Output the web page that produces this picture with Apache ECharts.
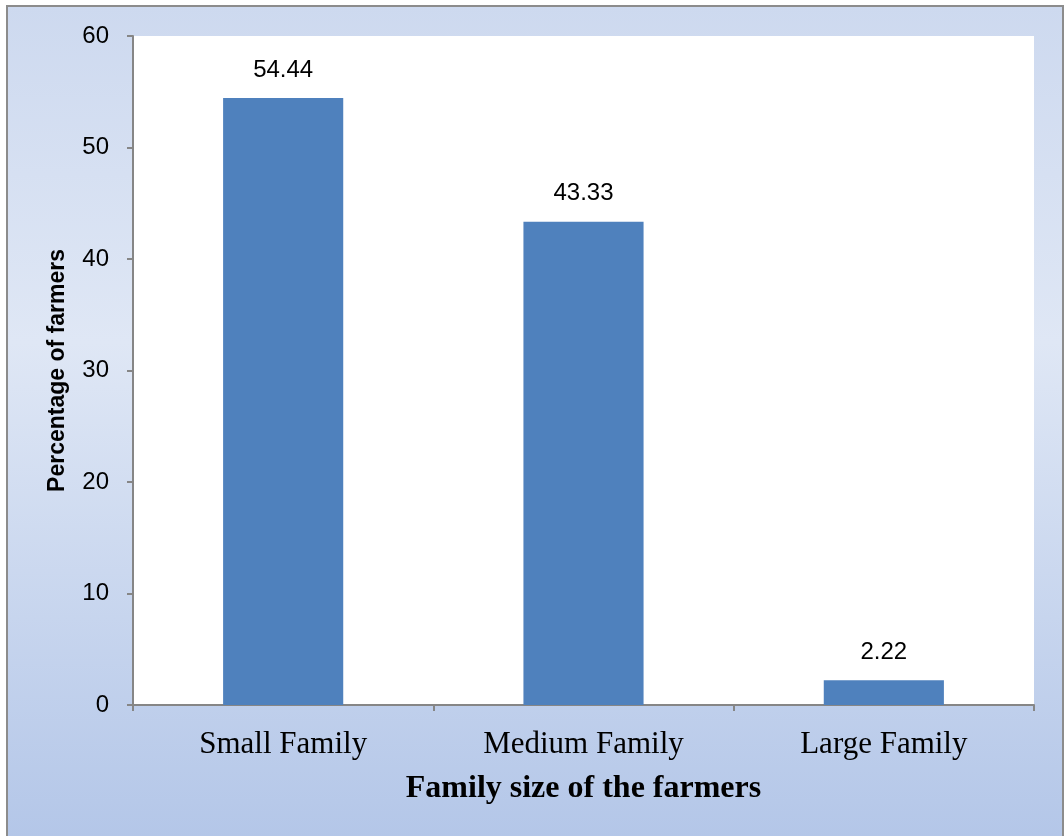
<!DOCTYPE html>
<html>
<head>
<meta charset="utf-8">
<script src="https://cdn.jsdelivr.net/npm/echarts@6/dist/echarts.min.js"></script>
<style>
html,body{margin:0;padding:0;background:#fff;}
#c{width:1064px;height:836px;}
</style>
</head>
<body>
<div id="c"></div>
<script>
const categories = ['Small Family', 'Medium Family', 'Large Family'];
const percentages = [54.44, 43.33, 2.22];
const yTicks = [0, 10, 20, 30, 40, 50, 60];

const chart = echarts.init(document.getElementById('c'), null, {renderer: 'canvas'});
const sans = '"Liberation Sans", Arial, sans-serif';
const serif = '"Liberation Serif", "Times New Roman", serif';

chart.setOption({
  animation: false,
  graphic: [{
    type: 'rect',
    z: -10,
    silent: true,
    shape: {x: 7, y: 6, width: 1056, height: 840},
    style: {
      fill: new echarts.graphic.LinearGradient(0, 0, 0, 1, [
        {offset: 0, color: '#cdd9ef'},
        {offset: 0.4, color: '#dfe7f5'},
        {offset: 1, color: '#b3c6e8'}
      ]),
      stroke: '#8c8c8c',
      lineWidth: 2
    }
  }, {
    type: 'rect',
    z: -5,
    silent: true,
    shape: {x: 133, y: 36, width: 901, height: 669},
    style: {fill: '#ffffff'}
  }],
  grid: {left: 133, right: 30, top: 36, bottom: 131, containLabel: false},
  xAxis: {
    type: 'category',
    data: categories,
    name: 'Family size of the farmers',
    nameLocation: 'middle',
    nameGap: 68,
    nameTextStyle: {fontFamily: serif, fontSize: 32, fontWeight: 'bold', color: '#000'},
    axisLine: {lineStyle: {color: '#868686', width: 2}},
    axisTick: {show: true, length: 6, lineStyle: {color: '#868686', width: 2}, alignWithLabel: false},
    axisLabel: {fontFamily: serif, fontSize: 31, color: '#000', margin: 24}
  },
  yAxis: {
    type: 'value',
    min: 0,
    max: 60,
    interval: 10,
    name: 'Percentage of farmers',
    nameLocation: 'middle',
    nameGap: 64,
    nameTextStyle: {fontFamily: sans, fontSize: 23, fontWeight: 'bold', color: '#000'},
    axisLine: {show: true, lineStyle: {color: '#868686', width: 2}},
    axisTick: {show: true, length: 6, lineStyle: {color: '#868686', width: 2}},
    splitLine: {show: false},
    axisLabel: {
      fontFamily: sans, fontSize: 24, color: '#000', margin: 24,
      formatter: v => yTicks.includes(v) ? String(v) : ''
    }
  },
  series: [{
    type: 'bar',
    data: percentages,
    barWidth: '40%',
    itemStyle: {color: '#4f81bd'},
    label: {
      show: true,
      position: 'top',
      distance: 16,
      fontFamily: sans,
      fontSize: 24,
      color: '#000',
      formatter: p => p.value.toFixed(2)
    }
  }]
});
</script>
</body>
</html>
